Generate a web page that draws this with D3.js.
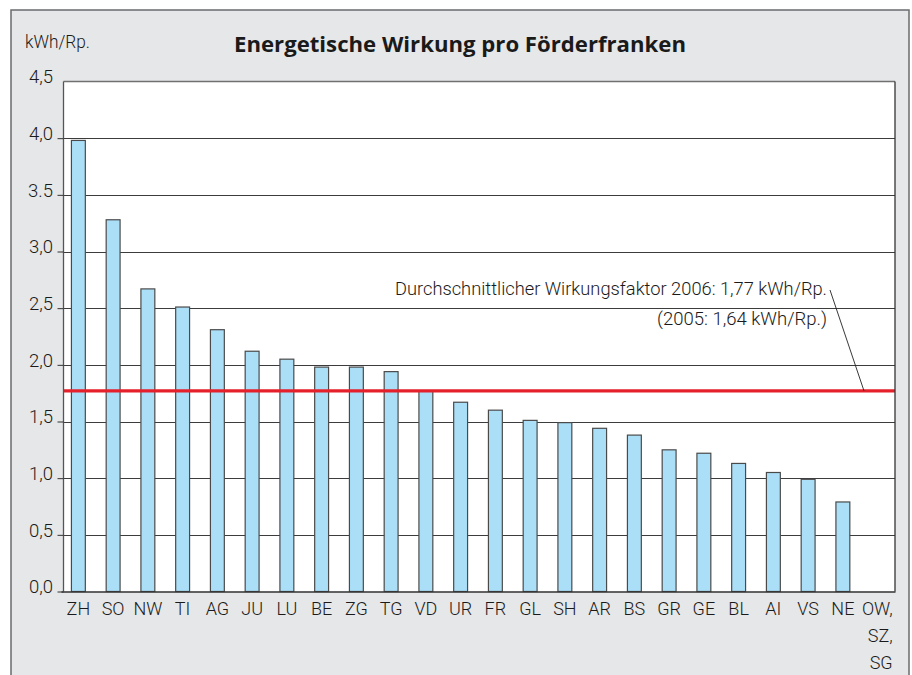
<!DOCTYPE html>
<html><head><meta charset="utf-8">
<script src="https://cdn.jsdelivr.net/npm/d3@7"></script>
<style>body{margin:0;background:#fff}svg{display:block}</style>
</head><body>
<svg id="c" width="912" height="675"></svg>
<script>
// ---- data ----
const categories = ["ZH","SO","NW","TI","AG","JU","LU","BE","ZG","TG","VD","UR","FR","GL","SH","AR","BS","GR","GE","BL","AI","VS","NE","OW, SZ, SG"];
const values = [3.98,3.28,2.67,2.51,2.31,2.12,2.05,1.98,1.98,1.94,1.77,1.67,1.60,1.51,1.49,1.44,1.38,1.25,1.22,1.13,1.05,0.99,0.79,0];
const yTicks = [0,0.5,1,1.5,2,2.5,3,3.5,4,4.5];
const yTickLabels = ["0,0","0,5","1,0","1,5","2,0","2,5","3,0","3.5","4,0","4,5"];
const average2006 = 1.77;
const title = "Energetische Wirkung pro Förderfranken";
const unitLabel = "kWh/Rp.";
const noteLines = ["Durchschnittlicher Wirkungsfaktor 2006: 1,77 kWh/Rp.", "(2005: 1,64 kWh/Rp.)"];

// ---- layout ----
const svg = d3.select("#c");
const LIGHT = "Roboto, 'Open Sans', sans-serif";
const plot = {left: 63.5, right: 895, top: 81.5, bottom: 591.5};

const x = d3.scaleBand().domain(categories).range([61, 895]).paddingInner(0.6).paddingOuter(0.3);
const y = d3.scaleLinear().domain([0, 4.5]).range([plot.bottom, plot.top]);

function fit(sel, w) {
  const n = sel.node();
  const cur = parseFloat(sel.attr("font-size"));
  const len = n.getComputedTextLength();
  if (len > 0) sel.attr("font-size", (cur * w / len).toFixed(2));
}
function squeeze(sel, w) {
  sel.attr("textLength", w).attr("lengthAdjust", "spacingAndGlyphs");
}

// panel
svg.append("rect").attr("x", 11).attr("y", 10).attr("width", 898).attr("height", 700)
  .attr("fill", "#e6e7e8").attr("stroke", "#6a6b6d").attr("stroke-width", 1.5);

// plot background
svg.append("rect").attr("x", plot.left).attr("y", y(4.5)).attr("width", plot.right - plot.left)
  .attr("height", y(0) - y(4.5)).attr("fill", "#fff");

// gridlines
svg.append("g").selectAll("line").data(yTicks.filter(t => t > 0 && t < 4.5)).join("line")
  .attr("x1", plot.left).attr("x2", plot.right)
  .attr("y1", d => Math.round(y(d)) + 0.5).attr("y2", d => Math.round(y(d)) + 0.5)
  .attr("stroke", "#3c3c3c").attr("stroke-width", 1);

// bars
svg.append("g").selectAll("rect").data(values).join("rect")
  .attr("x", (d, i) => x(categories[i]))
  .attr("width", x.bandwidth())
  .attr("y", d => y(d))
  .attr("height", d => y(0) - y(d))
  .attr("fill", "#abdff8")
  .attr("stroke", d => d > 0 ? "#4a4a4a" : "none")
  .attr("stroke-width", 1.2);

// average line
svg.append("line").attr("x1", plot.left).attr("x2", plot.right)
  .attr("y1", y(average2006)).attr("y2", y(average2006))
  .attr("stroke", "#e5202a").attr("stroke-width", 3.2);

// frame
svg.append("line").attr("x1", plot.left).attr("x2", plot.right).attr("y1", y(4.5)).attr("y2", y(4.5))
  .attr("stroke", "#707070").attr("stroke-width", 1.5);
svg.append("line").attr("x1", plot.right).attr("x2", plot.right).attr("y1", y(4.5)).attr("y2", y(0))
  .attr("stroke", "#333").attr("stroke-width", 1.3);
svg.append("line").attr("x1", plot.left).attr("x2", plot.left).attr("y1", y(4.5)).attr("y2", y(0))
  .attr("stroke", "#555").attr("stroke-width", 1.3);

// y axis
const yAxis = svg.append("g").attr("transform", `translate(${plot.left},0)`)
  .call(d3.axisLeft(y).tickValues(yTicks).tickSize(6).tickPadding(4.5)
    .tickFormat((d, i) => yTickLabels[i]));
yAxis.select(".domain").remove();
yAxis.selectAll(".tick line").attr("stroke", "#333").attr("stroke-width", 1)
  .filter(d => d === 4.5).remove();
yAxis.selectAll(".tick text").attr("font-family", LIGHT).attr("font-weight", 300)
  .attr("font-size", 18.5).attr("fill", "#1a1a1a").attr("dy", "0.08em");

// x axis
const xAxis = svg.append("g").attr("transform", `translate(0,${y(0)})`)
  .call(d3.axisBottom(x).tickSize(0).tickPadding(0).tickFormat(""));
xAxis.select(".domain").attr("stroke", "#333").attr("stroke-width", 1.5);
xAxis.selectAll(".tick").each(function(d) {
  const parts = d.split(" ");
  const t = d3.select(this).append("text").attr("fill", "#1a1a1a")
    .attr("font-family", LIGHT).attr("font-weight", 300).attr("font-size", 18);
  if (parts.length === 1) {
    t.attr("text-anchor", "middle").attr("y", 23.5).text(d);
  } else {
    t.attr("text-anchor", "end");
    parts.forEach((p, i) => t.append("tspan").attr("x", 15).attr("y", 23.5 + i * 27).text(p));
  }
});

// title
const tt = svg.append("text").attr("x", 460).attr("y", 52).attr("text-anchor", "middle")
  .attr("font-family", "'Open Sans', sans-serif").attr("font-weight", 700).attr("font-size", 20)
  .attr("fill", "#1a1a1a").text(title);
fit(tt, 452);

// unit label
const ul = svg.append("text").attr("x", 25).attr("y", 48).attr("font-family", LIGHT).attr("font-weight", 300)
  .attr("font-size", 19).attr("fill", "#1a1a1a").text(unitLabel);
squeeze(ul, 65);

// note
const n1 = svg.append("text").attr("x", 827).attr("y", 295).attr("text-anchor", "end")
  .attr("font-family", LIGHT).attr("font-weight", 300).attr("font-size", 18.5).attr("fill", "#1a1a1a").text(noteLines[0]);
squeeze(n1, 432);
const n2 = svg.append("text").attr("x", 827).attr("y", 325).attr("text-anchor", "end")
  .attr("font-family", LIGHT).attr("font-weight", 300).attr("font-size", 18.5).attr("fill", "#1a1a1a").text(noteLines[1]);
squeeze(n2, 170);
svg.append("line").attr("x1", 830).attr("y1", 290).attr("x2", 864).attr("y2", y(average2006))
  .attr("stroke", "#222").attr("stroke-width", 0.9);
</script>
</body></html>
